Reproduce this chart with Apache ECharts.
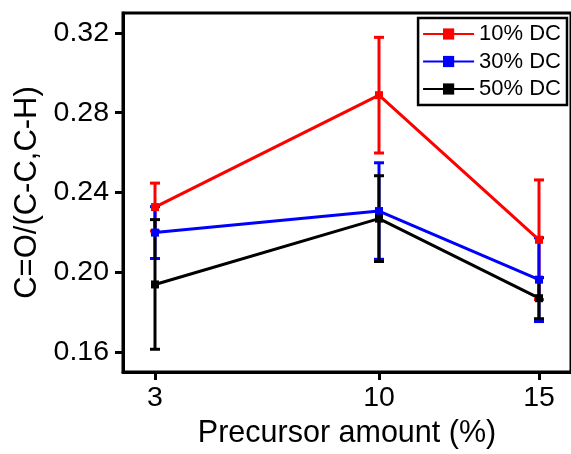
<!DOCTYPE html>
<html>
<head>
<meta charset="utf-8">
<script src="https://cdn.jsdelivr.net/npm/echarts@6/dist/echarts.min.js"></script>
<style>
  html, body { margin: 0; padding: 0; background: #fff; }
  #chart { width: 571px; height: 454px; }
</style>
</head>
<body>
<div id="chart"></div>
<script>
// Precursor amount (%) on the x axis
const precursorAmounts = [3, 10, 15];

// Mean C=O/(C-C,C-H) ratio and its error for each duty cycle
const dc10Mean = [0.2327, 0.2888, 0.2163];
const dc10Err  = [0.0120, 0.0290, 0.0300];
const dc30Mean = [0.2199, 0.2307, 0.1963];
const dc30Err  = [0.0130, 0.0242, 0.0210];
const dc50Mean = [0.1939, 0.2269, 0.1870];
const dc50Err  = [0.0325, 0.0215, 0.0103];

const seriesNames = ['10% DC', '30% DC', '50% DC'];
const seriesColors = ['#ff0000', '#0000ff', '#000000'];
const yTicks = [0.16, 0.20, 0.24, 0.28, 0.32];
const xTicks = [3, 10, 15];

const FONT = '"Liberation Sans", Arial, sans-serif';

const groups = [
  { mean: dc10Mean, err: dc10Err },
  { mean: dc30Mean, err: dc30Err },
  { mean: dc50Mean, err: dc50Err }
];

// Vertical error bar with short caps at both ends
function errorBarSeries(idx) {
  const g = groups[idx];
  const color = seriesColors[idx];
  return {
    type: 'custom',
    name: seriesNames[idx] + ' error',
    z: 2,
    data: precursorAmounts.map((x, i) => [x, g.mean[i], g.err[i]]),
    renderItem: function (params, api) {
      const x = api.value(0), y = api.value(1), e = api.value(2);
      const top = api.coord([x, y + e]);
      const bot = api.coord([x, y - e]);
      const hw = 5;
      const style = { stroke: color, lineWidth: 3 };
      return {
        type: 'group',
        children: [
          { type: 'line', shape: { x1: top[0], y1: top[1], x2: bot[0], y2: bot[1] }, style: style },
          { type: 'line', shape: { x1: top[0] - hw, y1: top[1], x2: top[0] + hw, y2: top[1] }, style: style },
          { type: 'line', shape: { x1: bot[0] - hw, y1: bot[1], x2: bot[0] + hw, y2: bot[1] }, style: style }
        ]
      };
    }
  };
}

function lineSeries(idx) {
  const g = groups[idx];
  const color = seriesColors[idx];
  return {
    type: 'line',
    name: seriesNames[idx],
    z: 3,
    data: precursorAmounts.map((x, i) => [x, g.mean[i]]),
    symbol: 'rect',
    symbolSize: 8,
    itemStyle: { color: color },
    lineStyle: { color: color, width: 3 },
    emphasis: { disabled: true }
  };
}

const chart = echarts.init(document.getElementById('chart'), null, { renderer: 'canvas' });

chart.setOption({
  backgroundColor: '#ffffff',
  animation: false,
  grid: {
    left: 123, top: 13, right: -3, bottom: 75,
    show: true, borderColor: '#000', borderWidth: 3, backgroundColor: 'transparent'
  },
  legend: {
    data: seriesNames,
    orient: 'vertical',
    right: 4,
    top: 18,
    padding: [5, 6, 5, 4],
    itemWidth: 51,
    itemHeight: 14,
    itemGap: 5.5,
    borderColor: '#000',
    borderWidth: 2.5,
    backgroundColor: '#fff',
    textStyle: { fontFamily: FONT, fontSize: 22, color: '#000', lineHeight: 22 }
  },
  xAxis: {
    type: 'value',
    min: 2, max: 16,
    name: 'Precursor amount (%)',
    nameLocation: 'middle',
    nameGap: 46,
    nameTextStyle: { fontFamily: FONT, fontSize: 30.5, color: '#000' },
    axisLine: { show: true, lineStyle: { color: '#000', width: 3 } },
    axisTick: { show: true, inside: false, length: 8, lineStyle: { color: '#000', width: 3 }, customValues: xTicks },
    axisLabel: { fontFamily: FONT, fontSize: 28.5, color: '#000', margin: 12, customValues: xTicks },
    splitLine: { show: false }
  },
  yAxis: {
    type: 'value',
    min: 0.15, max: 0.33,
    name: 'C=O/(C-C,C-H)',
    nameLocation: 'middle',
    nameGap: 80,
    nameTextStyle: { fontFamily: FONT, fontSize: 31, color: '#000' },
    axisLine: { show: true, lineStyle: { color: '#000', width: 3 } },
    axisTick: { show: true, inside: false, length: 8, lineStyle: { color: '#000', width: 3 }, customValues: yTicks },
    axisLabel: {
      fontFamily: FONT, fontSize: 28.5, color: '#000', margin: 14,
      customValues: yTicks,
      formatter: v => v.toFixed(2)
    },
    splitLine: { show: false }
  },
  series: [
    errorBarSeries(0), errorBarSeries(1), errorBarSeries(2),
    lineSeries(0), lineSeries(1), lineSeries(2)
  ]
});
</script>
</body>
</html>
